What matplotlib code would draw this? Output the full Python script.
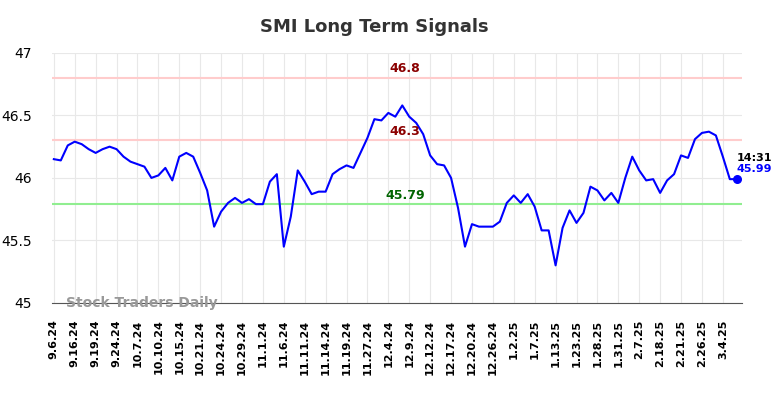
import matplotlib
matplotlib.use("Agg")
import matplotlib.pyplot as plt

# ── data ──
TICK_LABELS = ["9.6.24", "9.16.24", "9.19.24", "9.24.24", "10.7.24", "10.10.24",
               "10.15.24", "10.21.24", "10.24.24", "10.29.24", "11.1.24", "11.6.24",
               "11.11.24", "11.14.24", "11.19.24", "11.27.24", "12.4.24", "12.9.24",
               "12.12.24", "12.17.24", "12.20.24", "12.26.24", "1.2.25", "1.7.25",
               "1.13.25", "1.23.25", "1.28.25", "1.31.25", "2.7.25", "2.18.25",
               "2.21.25", "2.26.25", "3.4.25"]

PRICES = [46.15, 46.14, 46.26, 46.29, 46.27, 46.23, 46.20, 46.23, 46.25, 46.23,
          46.17, 46.13, 46.11, 46.09, 46.00, 46.02, 46.08, 45.98, 46.17, 46.20,
          46.17, 46.04, 45.90, 45.61, 45.73, 45.80, 45.84, 45.80, 45.83, 45.79,
          45.79, 45.97, 46.03, 45.45, 45.69, 46.06, 45.97, 45.87, 45.89, 45.89,
          46.03, 46.07, 46.10, 46.08, 46.20, 46.32, 46.47, 46.46, 46.52, 46.49,
          46.58, 46.49, 46.44, 46.35, 46.18, 46.11, 46.10, 46.00, 45.76, 45.45,
          45.63, 45.61, 45.61, 45.61, 45.65, 45.80, 45.86, 45.80, 45.87, 45.77,
          45.58, 45.58, 45.30, 45.60, 45.74, 45.64, 45.72, 45.93, 45.90, 45.82,
          45.88, 45.80, 46.00, 46.17, 46.06, 45.98, 45.99, 45.88, 45.98, 46.03,
          46.18, 46.16, 46.31, 46.36, 46.37, 46.34, 46.17, 45.99, 45.99]

RESIST = [46.8, 46.3]
SUPPORT = 45.79
LAST_TIME = "14:31"

# ── figure ──
fig = plt.figure(figsize=(7.84, 3.98), dpi=100)
ax = fig.add_axes([0.066, 0.239, 0.880, 0.628])

x = list(range(len(PRICES)))

for v in RESIST:
    ax.axhline(v, color="#ffcccc", lw=1.5, zorder=1)
ax.axhline(SUPPORT, color="#90ee90", lw=1.5, zorder=1)

ax.plot(x, PRICES, color="blue", lw=1.5, zorder=3)
ax.scatter([x[-1]], [PRICES[-1]], s=30, color="blue", zorder=4)

mid = 50.4
ax.text(mid, RESIST[0] + 0.02, f"{RESIST[0]:g}", color="darkred",
        fontsize=9, fontweight="bold", ha="center", va="bottom")
ax.text(mid, RESIST[1] + 0.02, f"{RESIST[1]:g}", color="darkred",
        fontsize=9, fontweight="bold", ha="center", va="bottom")
ax.text(mid, SUPPORT + 0.02, f"{SUPPORT:g}", color="darkgreen",
        fontsize=9, fontweight="bold", ha="center", va="bottom")

ax.text(x[-1], PRICES[-1] + 0.17, LAST_TIME, color="black",
        fontsize=8, fontweight="bold", ha="left", va="center")
ax.text(x[-1], PRICES[-1] + 0.08, f"{PRICES[-1]:.2f}", color="blue",
        fontsize=8, fontweight="bold", ha="left", va="center")

ax.text(1.7, 45.0, "Stock Traders Daily", color="#999999", fontsize=10,
        fontweight="bold", ha="left", va="center")

ax.set_xlim(-0.3, len(PRICES) - 0.3)
ax.set_ylim(45, 47)
ax.set_yticks([45, 45.5, 46, 46.5, 47])
ax.set_yticklabels(["45", "45.5", "46", "46.5", "47"])
ax.set_xticks(x[::3])
ax.set_xticklabels(TICK_LABELS, rotation=90, fontweight="bold", fontsize=8)
ax.tick_params(axis="y", labelsize=10, length=0, pad=14)
ax.tick_params(axis="x", length=0, pad=12)

ax.grid(True, color="#e8e8e8", lw=0.8, zorder=0)
ax.set_axisbelow(True)
for s in ["top", "right", "left"]:
    ax.spines[s].set_visible(False)
ax.spines["bottom"].set_color("#555555")

fig.suptitle("SMI Long Term Signals", x=0.478, y=0.955, fontsize=13,
             fontweight="bold", color="#333333")

fig.savefig("out.png", dpi=100)
